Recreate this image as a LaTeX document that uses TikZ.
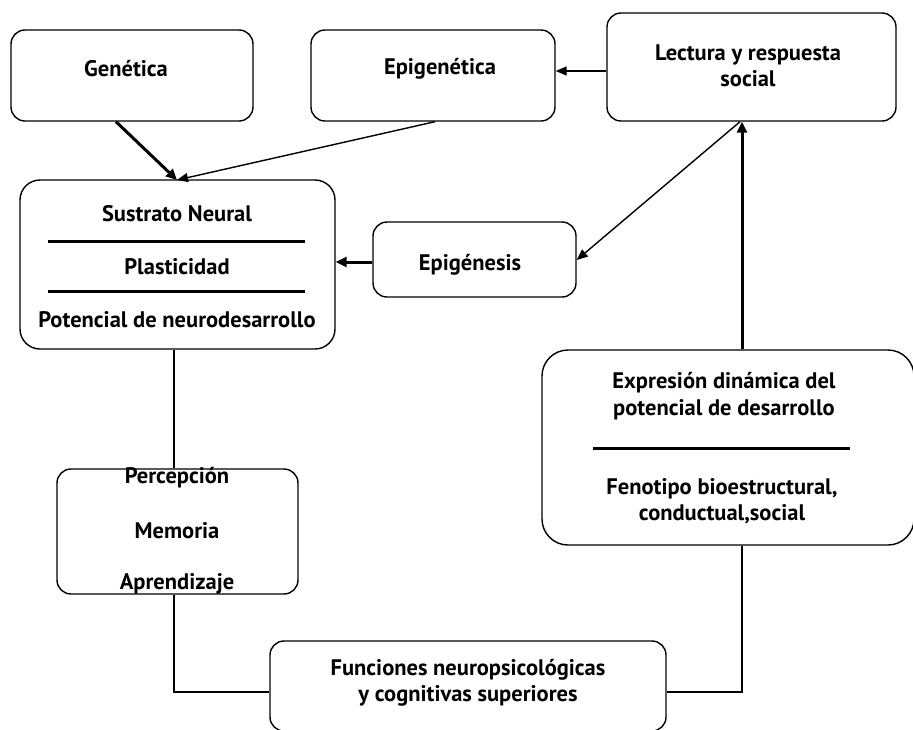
\documentclass[tikz,border=0pt]{standalone}
\usepackage{fontspec}
\setmainfont{PT Sans}
\usetikzlibrary{arrows.meta}
\begin{document}
\begin{tikzpicture}[x=1pt,y=-1pt,
  box/.style={draw, line width=1.4pt, rounded corners=14pt, inner sep=0pt},
  lbl/.style={font=\bfseries\fontsize{22.5}{26.5}\selectfont, align=center, inner sep=0pt},
  thin/.style={line width=1.4pt},
  arr/.style={line width=1.4pt, -{Triangle[length=11pt,width=9pt]}},
  tarr/.style={line width=3pt, -{Triangle[length=11pt,width=10pt]}},
  sep/.style={line width=3pt}]
\useasboundingbox (0,0) rectangle (913,729);
% boxes
\node[box, minimum width=242pt, minimum height=91pt] (gen) at (132,75.5) {};
\node[lbl] at (126,69) {Genética};
\node[box, minimum width=244pt, minimum height=91pt] (epi) at (433,75.5) {};
\node[lbl] at (440,69) {Epigenética};
\node[box, minimum width=289pt, minimum height=108pt] (lec) at (751.5,67) {};
\node[lbl] at (748,66) {Lectura y respuesta\\social};
\node[box, rounded corners=20pt, minimum width=315pt, minimum height=169pt] (sus) at (177.5,264.5) {};
\node[lbl] at (177,214) {Sustrato Neural};
\node[lbl] at (177,267) {Plasticidad};
\node[lbl] at (177,320) {Potencial de neurodesarrollo};
\draw[sep] (48,241) -- (305,241);
\draw[sep] (48,291) -- (305,291);
\node[box, minimum width=203pt, minimum height=75pt] (epg) at (474.5,259.5) {};
\node[lbl] at (470,265) {Epigénesis};
\node[box, rounded corners=26pt, minimum width=372pt, minimum height=195pt] (exp) at (728,447.5) {};
\node[lbl] at (724,396) {Expresión dinámica del\\potencial de desarrollo};
\draw[sep] (593,448) -- (850,448);
\node[lbl] at (722,501) {Fenotipo bioestructural,\\conductual,social};
\node[box, minimum width=241pt, minimum height=125pt] (per) at (177.5,531.5) {};
\node[lbl] at (177,478) {Percepción};
\node[lbl] at (177,531) {Memoria};
\node[lbl] at (177,584) {Aprendizaje};
\node[box, minimum width=396pt, minimum height=90pt] (fun) at (468,686) {};
\node[lbl] at (468,683) {Funciones neuropsicológicas\\y cognitivas superiores};
% connectors
\coordinate (hub) at (177,180);
\draw[tarr] (gen.south -| 116,0) -- (hub);
\draw[arr] (epi.south -| 435,0) -- (hub);
\draw[arr] (lec.west |- 0,71) -- (epi.east |- 0,71);
\draw[arr] (lec.south -| 740,0) -- (epg.east |- 0,260);
\draw[tarr] (exp.north -| 742,0) -- (lec.south -| 742,0);
\draw[tarr] (epg.west |- 0,262) -- (sus.east |- 0,262);
\draw[thin] (sus.south -| 174,0) -- (per.north -| 174,0);
\draw[thin] (per.south -| 174,0) |- (fun.west |- 0,692);
\draw[thin] (exp.south -| 742,0) |- (fun.east |- 0,692);
\end{tikzpicture}
\end{document}
